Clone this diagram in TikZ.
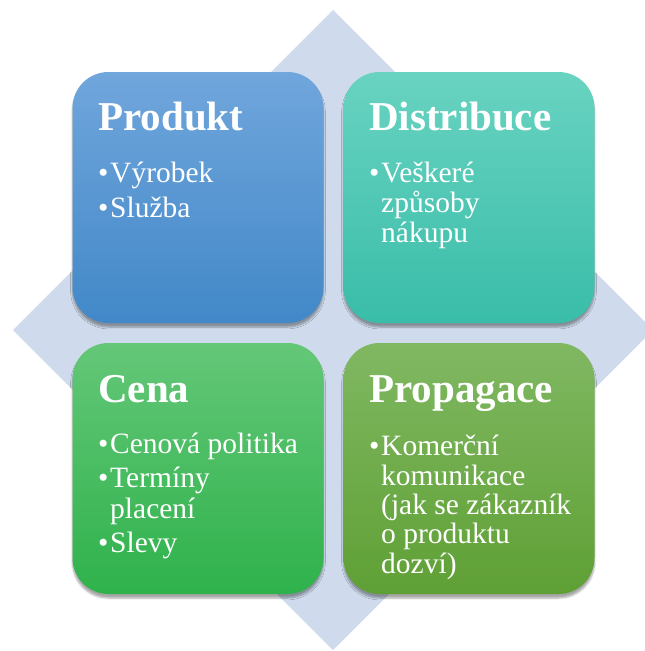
\documentclass[tikz,border=0pt]{standalone}
\usepackage{fontspec}
\setmainfont{Liberation Serif}
\usetikzlibrary{shadows.blur}
\definecolor{diamondc}{HTML}{CFDBEC}
\definecolor{pTop}{HTML}{70A6DC}\definecolor{pBot}{HTML}{4288C8}
\definecolor{dTop}{HTML}{69D3C1}\definecolor{dBot}{HTML}{39BDA9}
\definecolor{cTop}{HTML}{64C778}\definecolor{cBot}{HTML}{2FB24C}
\definecolor{gTop}{HTML}{80B862}\definecolor{gBot}{HTML}{5FA035}
\tikzset{
  card/.style={rounded corners=36pt, minimum width=251pt, minimum height=251pt,
    inner sep=0pt, draw=none,
    blur shadow={shadow xshift=0pt, shadow yshift=-4pt, shadow opacity=35, shadow blur steps=6, shadow blur extra rounding=2pt}},
  ttl/.style={anchor=base west, inner sep=0pt, text=white, font=\fontsize{41}{41}\selectfont\bfseries},
  itm/.style={anchor=base west, inner sep=0pt, text=white, font=\fontsize{29.5}{30}\selectfont},
  bul/.style={anchor=base west, inner sep=0pt, text=white, font=\fontsize{29.5}{30}\selectfont},
}
\begin{document}
\begin{tikzpicture}[x=1pt,y=-1pt]
\useasboundingbox (0,0) rectangle (645,651);
\fill[diamondc] (333,10) -- (653,330) -- (333,650) -- (13,330) -- cycle;
% cards
\node[card, top color=pTop, bottom color=pBot] (prod) at (198,197.5) {};
\node[card, top color=dTop, bottom color=dBot] (dist) at (469,197.5) {};
\node[card, top color=cTop, bottom color=cBot] (cena) at (198,468.5) {};
\node[card, top color=gTop, bottom color=gBot] (prop) at (469,468.5) {};
% Produkt
\node[ttl] (prodT) at (98,130) {Produkt};
\node[bul] (prodB1) at (98,182) {•};
\node[itm] (prodL1) at (110,182) {Výrobek};
\node[bul] (prodB2) at (98,217) {•};
\node[itm] (prodL2) at (110,217) {Služba};
% Distribuce
\node[ttl] (distT) at (369,130) {Distribuce};
\node[bul] (distB1) at (369,182) {•};
\node[itm] (distL1) at (381,182) {Veškeré};
\node[itm] (distL2) at (381,212) {způsoby};
\node[itm] (distL3) at (381,242) {nákupu};
% Cena
\node[ttl] (cenaT) at (98,402) {Cena};
\node[bul] (cenaB1) at (98,453) {•};
\node[itm] (cenaL1) at (110,453) {Cenová politika};
\node[bul] (cenaB2) at (98,487) {•};
\node[itm] (cenaL2) at (110,487) {Termíny};
\node[itm] (cenaL3) at (110,518) {placení};
\node[bul] (cenaB3) at (98,552) {•};
\node[itm] (cenaL4) at (110,552) {Slevy};
% Propagace
\node[ttl] (propT) at (369,402) {Propagace};
\node[bul] (propB1) at (369,455) {•};
\node[itm] (propL1) at (381,455) {Komerční};
\node[itm] (propL2) at (381,485) {komunikace};
\node[itm] (propL3) at (381,514) {(jak se zákazník};
\node[itm] (propL4) at (381,543) {o produktu};
\node[itm] (propL5) at (381,573) {dozví)};
\end{tikzpicture}
\end{document}
